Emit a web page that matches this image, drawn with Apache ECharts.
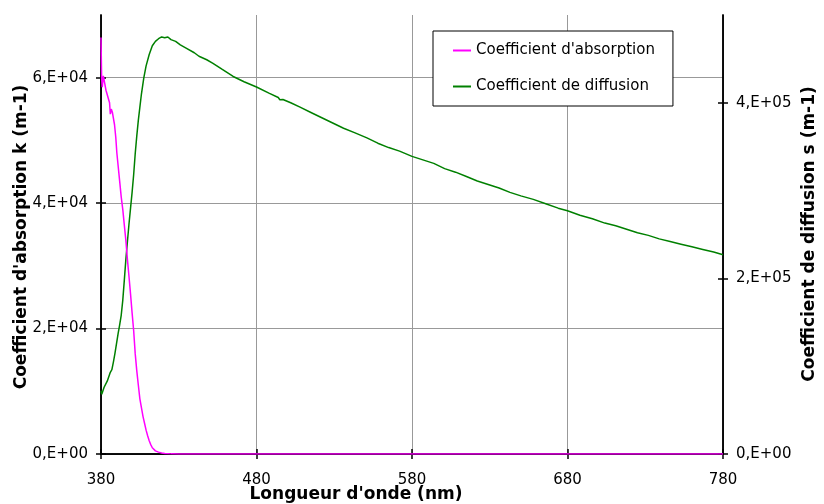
<!DOCTYPE html>
<html>
<head>
<meta charset="utf-8">
<script src="https://cdn.jsdelivr.net/npm/echarts@6/dist/echarts.min.js"></script>
<style>html,body{margin:0;padding:0;background:#fff}#c{width:824px;height:504px}</style>
</head>
<body>
<div id="c"></div>
<script>
// Wavelength ticks (nm)
const xTicks = [380, 480, 580, 680, 780];
const yLeftTicks = [0, 20000, 40000, 60000];
const yRightTicks = [0, 200000, 400000];

const seriesNames = ["Coefficient d'absorption", "Coefficient de diffusion"];

// Absorption coefficient k (m-1): [wavelength, value]
const absorption = [
  [380, 66400], [380.4, 60000], [380.8, 58500], [381.5, 60300], [382.5, 60300],
  [383.2, 58000], [384.4, 57800], [385.5, 56000], [386, 54200], [386.6, 55000],
  [387.3, 54500], [388.7, 52500], [389.5, 50500], [390.2, 48000], [391, 46000],
  [392, 43500], [393, 41000], [394, 39000], [395, 36500], [396, 34000],
  [397, 31000], [398, 28300], [399, 25500], [400, 22500], [401, 19700],
  [402, 16000], [403, 13300], [404, 11000], [405, 8800], [406, 7400],
  [407, 6000], [408, 4900], [409, 3800], [410, 2900], [411, 2100],
  [412, 1500], [413, 1000], [414, 700], [415, 500], [417, 300],
  [419, 150], [421, 80], [425, 20], [430, 0], [500, 0], [600, 0], [700, 0], [780, 0]
];

// Scattering coefficient s (m-1): [wavelength, value]
const diffusion = [
  [380, 72000], [380.5, 68000], [382, 76000], [384, 83000], [386, 93000],
  [387, 96000], [388, 105000], [389, 115000], [390, 126000], [391, 137000],
  [392, 147000], [393, 158000], [394, 175000], [395, 198000], [396, 222000],
  [397, 242000], [398, 262000], [399, 280000], [400, 298000], [401, 318000],
  [402, 342000], [403, 362000], [404, 380000], [405, 395000], [406, 410000],
  [407.5, 428000], [409, 442000], [411, 455000], [413, 465000], [415, 470000],
  [417, 473000], [419, 475000], [421, 474000], [423, 475000], [425, 472000],
  [428, 470000], [431, 466000], [435, 462000], [440, 457000], [443, 453000],
  [448, 449000], [452, 445000], [458, 438000], [465, 430000], [472, 424000],
  [480, 418000], [488, 411000], [494, 406000], [495, 403500], [497, 403800],
  [502, 400000], [508, 395000], [515, 389000], [522, 383000], [529, 377000],
  [536, 371000], [543, 366000], [551, 360000], [558, 354000], [565, 349000],
  [572, 345000], [580, 339000], [587, 335000], [594, 331000], [601, 325000],
  [608, 321000], [615, 316000], [622, 311000], [629, 307000], [636, 303000],
  [643, 298000], [650, 294000], [658, 290000], [666, 285000], [674, 280000],
  [680, 277000], [688, 272000], [696, 268000], [704, 263000], [711, 260000],
  [718, 256000], [725, 252000], [732, 249000], [739, 245000], [746, 242000],
  [753, 239000], [760, 236000], [767, 233000], [774, 230000], [780, 227000]
];

function sci(v) {
  if (v === 0) return '0,E+00';
  const e = Math.floor(Math.log10(v) + 1e-9);
  const m = Math.round(v / Math.pow(10, e));
  return m + ',E+' + (e < 10 ? '0' + e : e);
}

const FONT = 'DejaVu Sans';
const chart = echarts.init(document.getElementById('c'), null, {renderer: 'canvas'});

const lineStyleAxis = {color: '#000', width: 1.5};
const gridColor = '#999';

function xAx(main) {
  return {
    type: 'value', position: 'bottom', min: 380, max: 780,
    axisLine: {show: true, onZero: false, lineStyle: lineStyleAxis},
    axisTick: {show: true, inside: !main, length: 5, lineStyle: lineStyleAxis, customValues: xTicks},
    axisLabel: {show: main, customValues: xTicks, margin: 19, color: '#000', fontFamily: FONT, fontSize: 15},
    splitLine: {show: main, lineStyle: {color: gridColor, width: 1}}
  };
}
function yAx(pos, max, ticks, main, grid) {
  return {
    type: 'value', position: pos, min: 0, max: max,
    axisLine: {show: true, onZero: false, lineStyle: lineStyleAxis},
    axisTick: {show: true, inside: !main, length: 5, lineStyle: lineStyleAxis, customValues: ticks},
    axisLabel: {show: main, customValues: ticks, margin: 13, color: '#000', fontFamily: FONT, fontSize: 15, formatter: sci, padding: [3, 0, 0, 0]},
    splitLine: {show: grid, lineStyle: {color: gridColor, width: 1}}
  };
}

chart.setOption({
  animation: false,
  backgroundColor: '#fff',
  grid: {left: 101, right: 101, top: 15, height: 439, containLabel: false},
  xAxis: [xAx(true), xAx(false)],
  yAxis: [
    yAx('left', 70000, yLeftTicks, true, true),
    yAx('left', 70000, yLeftTicks, false, false),
    yAx('right', 500000, yRightTicks, true, false),
    yAx('right', 500000, yRightTicks, false, false)
  ],
  legend: {
    orient: 'vertical', left: 433, top: 31, width: 242,
    padding: [12, 18, 12, 20], itemGap: 21,
    itemWidth: 18, itemHeight: 2, icon: 'rect',
    backgroundColor: '#fff', borderColor: '#000', borderWidth: 1,
    textStyle: {fontFamily: FONT, fontSize: 15, color: '#000'},
    data: seriesNames
  },
  graphic: [
    {type: 'text', x: 356, y: 495, style: {text: "Longueur d'onde (nm)", font: 'bold 17px "DejaVu Sans"', fill: '#000', align: 'center', verticalAlign: 'middle'}},
    {type: 'text', x: 22, y: 237, rotation: Math.PI / 2, style: {text: "Coefficient d'absorption k (m-1)", font: 'bold 17px "DejaVu Sans"', fill: '#000', align: 'center', verticalAlign: 'middle'}},
    {type: 'text', x: 810, y: 234, rotation: Math.PI / 2, style: {text: 'Coefficient de diffusion s (m-1)', font: 'bold 17px "DejaVu Sans"', fill: '#000', align: 'center', verticalAlign: 'middle'}}
  ],
  series: [
    {name: seriesNames[0], type: 'line', xAxisIndex: 0, yAxisIndex: 0, data: absorption, showSymbol: false, symbol: 'none', color: '#ff00ff', lineStyle: {width: 1.5, color: '#ff00ff'}, z: 3},
    {name: seriesNames[1], type: 'line', xAxisIndex: 0, yAxisIndex: 2, data: diffusion, showSymbol: false, symbol: 'none', color: '#008000', lineStyle: {width: 1.5, color: '#008000'}, z: 2}
  ]
});
</script>
</body>
</html>
